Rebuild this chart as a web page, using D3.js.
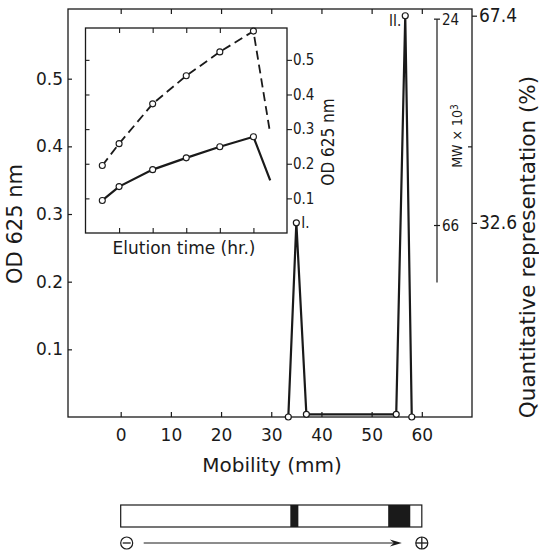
<!DOCTYPE html>
<html>
<head>
<meta charset="utf-8">
<script src="https://cdn.jsdelivr.net/npm/d3@7/dist/d3.min.js"></script>
<style>
  html, body { margin: 0; padding: 0; background: #fff; }
  svg { display: block; }
  text { fill: #1a1a1a; }
</style>
</head>
<body>
<svg id="chart" width="539" height="556"></svg>
<script>
// Electrophoretic profile: OD 625 nm versus mobility
const mobility = [33.4, 35.0, 37.0, 54.9, 56.7, 58.0];
const od625 = [0, 0.287, 0.004, 0.004, 0.593, 0];
const peakIndex = [1, 4];
const peakLabels = ["I.", "II."];

const mobilityTicks = [0, 10, 20, 30, 40, 50, 60];
const odTicks = [0.1, 0.2, 0.3, 0.4, 0.5];
const percentTicks = [32.6, 67.4];
const mwTicks = [66, 24];

// Inset: elution profile
const elutionTime = [0.5, 1, 2, 3, 4, 5, 5.5];
const elutionDashed = [0.195, 0.258, 0.373, 0.454, 0.523, 0.583, 0.287];
const elutionSolid = [0.094, 0.134, 0.183, 0.217, 0.249, 0.278, 0.152];
const insetTimeTicks = [1, 2, 3, 4, 5];
const insetOdTicks = [0.1, 0.2, 0.3, 0.4, 0.5];

// Gel strip: strip extent and stained bands (mm)
const stripExtent = [0, 60];
const gelBands = [[33.8, 35.4], [53.3, 57.7]];

const ink = "#1a1a1a";
const FONT = "'DejaVu Sans', Roboto, sans-serif";
const FONT_NARROW = "'DejaVu Sans Condensed', 'Liberation Sans Narrow', Roboto, sans-serif";
const svg = d3.select("#chart");

function styleText(sel, size, family) {
  return sel.attr("font-size", size).attr("font-family", family).attr("fill", ink);
}

// ---- main panel ----
const M = { left: 68, right: 472, top: 9, bottom: 417 };
const x = d3.scaleLinear().domain([-10.5, 70]).range([M.left, M.right]);
const y = d3.scaleLinear().domain([0, 0.603]).range([M.bottom, M.top]);

svg.append("rect")
  .attr("x", M.left).attr("y", M.top)
  .attr("width", M.right - M.left).attr("height", M.bottom - M.top)
  .attr("fill", "none").attr("stroke", ink).attr("stroke-width", 1.3);

// bottom axis with labels, ticks pointing inward
const gx = svg.append("g").attr("transform", `translate(0,${M.bottom})`)
  .call(d3.axisBottom(x).tickValues(mobilityTicks).tickSizeInner(-5).tickSizeOuter(0).tickPadding(12));
gx.select(".domain").remove();
gx.selectAll("line").attr("stroke", ink).attr("stroke-width", 1.2);
styleText(gx.selectAll("text"), 17, FONT);

// top ticks
const gxt = svg.append("g").attr("transform", `translate(0,${M.top})`)
  .call(d3.axisTop(x).tickValues(mobilityTicks).tickSizeInner(-5).tickSizeOuter(0).tickFormat(""));
gxt.select(".domain").remove();
gxt.selectAll("line").attr("stroke", ink).attr("stroke-width", 1.2);

// left axis
const gy = svg.append("g").attr("transform", `translate(${M.left},0)`)
  .call(d3.axisLeft(y).tickValues(odTicks).tickSizeInner(-4).tickSizeOuter(0).tickPadding(5)
    .tickFormat(d3.format(".1f")));
gy.select(".domain").remove();
gy.selectAll("line").attr("stroke", ink).attr("stroke-width", 1.2);
styleText(gy.selectAll("text"), 17, FONT);

// right frame: one inward tick
const gyr = svg.append("g").attr("transform", `translate(${M.right},0)`)
  .call(d3.axisRight(y).tickValues([0.4]).tickSizeInner(-4).tickSizeOuter(0).tickFormat(""));
gyr.select(".domain").remove();
gyr.selectAll("line").attr("stroke", ink).attr("stroke-width", 1.2);

// quantitative representation (%) axis: peak share of total OD
const total = od625[peakIndex[0]] + od625[peakIndex[1]];
const yPct = d3.scaleLinear().domain([0, y.domain()[1] / total * 100]).range(y.range());
const gp = svg.append("g").attr("transform", `translate(${M.right},0)`)
  .call(d3.axisRight(yPct).tickValues(percentTicks).tickSizeInner(5).tickSizeOuter(0).tickPadding(2)
    .tickFormat(d3.format(".1f")));
gp.select(".domain").remove();
gp.selectAll("line").attr("stroke", ink).attr("stroke-width", 1.2);
styleText(gp.selectAll("text"), 19, FONT_NARROW);

// molecular weight axis
const mwX = 437;
const yMW = d3.scaleLog().domain([66, 24]).range([y(0.283), y(0.588)]);
svg.append("line")
  .attr("x1", mwX).attr("x2", mwX)
  .attr("y1", yMW(24)).attr("y2", yMW(66) + 57)
  .attr("stroke", ink).attr("stroke-width", 1.2);
const gmw = svg.append("g").attr("transform", `translate(${mwX},0)`);
gmw.selectAll("line.t").data(mwTicks).join("line")
  .attr("x1", -3).attr("x2", 3)
  .attr("y1", d => yMW(d)).attr("y2", d => yMW(d))
  .attr("stroke", ink).attr("stroke-width", 1.2);
styleText(gmw.selectAll("text").data(mwTicks).join("text")
  .attr("x", 5).attr("y", d => yMW(d)).attr("dy", "0.36em")
  .text(d => d), 15, FONT_NARROW);
const mwLabel = styleText(svg.append("text")
  .attr("transform", `translate(462,136) rotate(-90)`)
  .attr("text-anchor", "middle"), 14, FONT_NARROW);
mwLabel.append("tspan").text("MW × 10");
mwLabel.append("tspan").attr("dy", "-0.45em").attr("font-size", 10).text("3");

// profile line and markers
const pts = mobility.map((m, i) => [m, od625[i]]);
svg.append("path")
  .attr("d", d3.line().x(d => x(d[0])).y(d => y(d[1]))(pts))
  .attr("fill", "none").attr("stroke", ink).attr("stroke-width", 2.2)
  .attr("stroke-linejoin", "miter");
svg.selectAll("circle.main").data(pts).join("circle")
  .attr("class", "main")
  .attr("cx", d => x(d[0])).attr("cy", d => y(d[1])).attr("r", 3)
  .attr("fill", "#fff").attr("stroke", ink).attr("stroke-width", 1.2);

// peak labels
styleText(svg.append("text").attr("x", x(mobility[peakIndex[0]]) + 5).attr("y", y(od625[peakIndex[0]]) + 5)
  .text(peakLabels[0]), 15, FONT_NARROW);
styleText(svg.append("text").attr("x", x(mobility[peakIndex[1]]) - 4).attr("y", y(od625[peakIndex[1]]) + 10)
  .attr("text-anchor", "end").text(peakLabels[1]), 15, FONT_NARROW);

// axis titles
styleText(svg.append("text")
  .attr("transform", `translate(${(M.left + M.right) / 2 + 2},472)`)
  .attr("text-anchor", "middle").text("Mobility (mm)"), 20, FONT);
styleText(svg.append("text")
  .attr("transform", `translate(22,224) rotate(-90)`)
  .attr("text-anchor", "middle").text("OD 625 nm"), 21, FONT);
styleText(svg.append("text")
  .attr("transform", `translate(535,247) rotate(-90)`)
  .attr("text-anchor", "middle").text("Quantitative representation (%)"), 21.5, FONT);

// ---- inset panel ----
const I = { left: 85.5, right: 287, top: 28, bottom: 233 };
const xi = d3.scaleLinear().domain([0, 6]).range([I.left, I.right]);
const yi = d3.scaleLinear().domain([0, 0.592]).range([I.bottom, I.top]);

svg.append("rect")
  .attr("x", I.left).attr("y", I.top)
  .attr("width", I.right - I.left).attr("height", I.bottom - I.top)
  .attr("fill", "#fff").attr("stroke", ink).attr("stroke-width", 1.3);

[[d3.axisBottom, I.bottom], [d3.axisTop, I.top]].forEach(([ax, pos]) => {
  const g = svg.append("g").attr("transform", `translate(0,${pos})`)
    .call(ax(xi).tickValues(insetTimeTicks).tickSizeInner(-5).tickSizeOuter(0).tickFormat(""));
  g.select(".domain").remove();
  g.selectAll("line").attr("stroke", ink).attr("stroke-width", 1.1);
});
const gil = svg.append("g").attr("transform", `translate(${I.left},0)`)
  .call(d3.axisLeft(yi).tickValues(insetOdTicks).tickSizeInner(-4).tickSizeOuter(0).tickFormat(""));
gil.select(".domain").remove();
gil.selectAll("line").attr("stroke", ink).attr("stroke-width", 1.1);
const gir = svg.append("g").attr("transform", `translate(${I.right},0)`)
  .call(d3.axisRight(yi).tickValues(insetOdTicks).tickSizeInner(5).tickSizeOuter(0).tickPadding(1)
    .tickFormat(d3.format(".1f")));
gir.select(".domain").remove();
gir.selectAll("line").attr("stroke", ink).attr("stroke-width", 1.1);
styleText(gir.selectAll("text"), 15, FONT_NARROW);

styleText(svg.append("text")
  .attr("transform", `translate(334,142) rotate(-90)`)
  .attr("text-anchor", "middle").text("OD 625 nm"), 17, FONT_NARROW);
styleText(svg.append("text")
  .attr("x", 184).attr("y", 254)
  .attr("text-anchor", "middle").text("Elution time (hr.)"), 17, FONT);

const lineI = d3.line().x(d => xi(d[0])).y(d => yi(d[1]));
const dashedPts = elutionTime.map((t, i) => [t, elutionDashed[i]]);
const solidPts = elutionTime.map((t, i) => [t, elutionSolid[i]]);
svg.append("path").attr("d", lineI(dashedPts))
  .attr("fill", "none").attr("stroke", ink).attr("stroke-width", 1.8)
  .attr("stroke-dasharray", "9,5");
svg.append("path").attr("d", lineI(solidPts))
  .attr("fill", "none").attr("stroke", ink).attr("stroke-width", 2.2);
[dashedPts, solidPts].forEach(series => {
  svg.append("g").selectAll("circle").data(series.slice(0, -1)).join("circle")
    .attr("cx", d => xi(d[0])).attr("cy", d => yi(d[1])).attr("r", 3)
    .attr("fill", "#fff").attr("stroke", ink).attr("stroke-width", 1.1);
});

// ---- gel strip ----
const gelTop = 505, gelH = 22;
svg.append("rect")
  .attr("x", x(stripExtent[0])).attr("y", gelTop)
  .attr("width", x(stripExtent[1]) - x(stripExtent[0])).attr("height", gelH)
  .attr("fill", "#fff").attr("stroke", ink).attr("stroke-width", 1.2);
svg.selectAll("rect.band").data(gelBands).join("rect")
  .attr("class", "band")
  .attr("x", d => x(d[0])).attr("y", gelTop)
  .attr("width", d => x(d[1]) - x(d[0])).attr("height", gelH)
  .attr("fill", ink);

// electrode symbols and direction arrow
const arrowY = 543;
const minusX = x(stripExtent[0]) + 6, plusX = x(stripExtent[1]);
svg.append("circle").attr("cx", minusX).attr("cy", arrowY).attr("r", 6)
  .attr("fill", "none").attr("stroke", ink).attr("stroke-width", 1.2);
svg.append("line").attr("x1", minusX - 4).attr("x2", minusX + 4).attr("y1", arrowY).attr("y2", arrowY)
  .attr("stroke", ink).attr("stroke-width", 1.3);
svg.append("circle").attr("cx", plusX).attr("cy", arrowY).attr("r", 6)
  .attr("fill", "none").attr("stroke", ink).attr("stroke-width", 1.2);
svg.append("line").attr("x1", plusX - 6).attr("x2", plusX + 6).attr("y1", arrowY).attr("y2", arrowY)
  .attr("stroke", ink).attr("stroke-width", 1.3);
svg.append("line").attr("x1", plusX).attr("x2", plusX).attr("y1", arrowY - 6).attr("y2", arrowY + 6)
  .attr("stroke", ink).attr("stroke-width", 1.3);

const arrowStart = minusX + 17, arrowEnd = plusX - 20;
svg.append("line").attr("x1", arrowStart).attr("x2", arrowEnd - 6).attr("y1", arrowY).attr("y2", arrowY)
  .attr("stroke", ink).attr("stroke-width", 1);
svg.append("path")
  .attr("d", `M${arrowEnd},${arrowY} L${arrowEnd - 12},${arrowY - 3.5} L${arrowEnd - 8},${arrowY} L${arrowEnd - 12},${arrowY + 3.5} Z`)
  .attr("fill", ink);
</script>
</body>
</html>
